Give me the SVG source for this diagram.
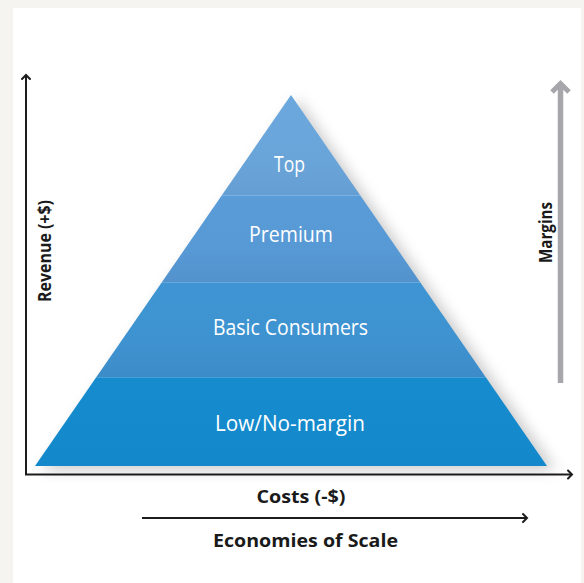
<svg xmlns="http://www.w3.org/2000/svg" width="584" height="583" viewBox="0 0 584 583">
  <style>
    .axis { stroke: #1c1c1c; stroke-width: 2; fill: none; }
    .head { stroke: #1c1c1c; stroke-width: 2; fill: none; stroke-linecap: round; stroke-linejoin: miter; }
    .tier { font-family: "Open Sans", "Noto Sans", "Liberation Sans", sans-serif; font-size: 21px; fill: #ffffff; text-anchor: middle; }
    .lbl { font-family: "Open Sans", "Noto Sans", "Liberation Sans", sans-serif; font-weight: bold; font-size: 18px; fill: #1a1a1a; text-anchor: middle; }
    .seam { stroke: #ffffff; stroke-opacity: 0.2; stroke-width: 1; }
  </style>
  <defs>
    <linearGradient id="gTop" x1="0" y1="0" x2="0" y2="1">
      <stop offset="0" stop-color="#6ba8dd"/>
      <stop offset="0.6" stop-color="#6aa5da"/>
      <stop offset="1" stop-color="#659ed2"/>
    </linearGradient>
    <linearGradient id="gPrem" x1="0" y1="0" x2="0" y2="1">
      <stop offset="0" stop-color="#5a9cd8"/>
      <stop offset="0.65" stop-color="#5799d5"/>
      <stop offset="1" stop-color="#5392cc"/>
    </linearGradient>
    <linearGradient id="gBasic" x1="0" y1="0" x2="0" y2="1">
      <stop offset="0" stop-color="#3f95d3"/>
      <stop offset="0.65" stop-color="#3e92d0"/>
      <stop offset="1" stop-color="#3d8cc8"/>
    </linearGradient>
    <linearGradient id="gLow" x1="0" y1="0" x2="0" y2="1">
      <stop offset="0" stop-color="#168bcd"/>
      <stop offset="1" stop-color="#1389cb"/>
    </linearGradient>
    <filter id="soft" x="-20%" y="-20%" width="140%" height="140%">
      <feGaussianBlur stdDeviation="7"/>
    </filter>
    <filter id="softLine" x="-5%" y="-200%" width="110%" height="500%">
      <feGaussianBlur stdDeviation="3"/>
    </filter>
  </defs>

  <!-- page and panel -->
  <rect x="0" y="0" width="584" height="583" fill="#f5f4f0"/>
  <rect x="13" y="8" width="568" height="575" fill="#ffffff"/>

  <!-- pyramid shadow -->
  <polygon points="298,99 556,470 42,470" fill="#000000" fill-opacity="0.2" filter="url(#soft)"/>

  <!-- pyramid tiers -->
  <g id="tier-low">
    <polygon points="96.4,377 485.6,377 547,466 35,466" fill="url(#gLow)"/>
    <text class="tier" x="290" y="431" textLength="150" lengthAdjust="spacingAndGlyphs">Low/No-margin</text>
  </g>
  <g id="tier-basic">
    <polygon points="162,282 420,282 485.6,377 96.4,377" fill="url(#gBasic)"/>
    <text class="tier" x="290.5" y="335" textLength="155" lengthAdjust="spacingAndGlyphs">Basic Consumers</text>
  </g>
  <g id="tier-premium">
    <polygon points="222,195 360,195 420,282 162,282" fill="url(#gPrem)"/>
    <text class="tier" x="291" y="242" textLength="84" lengthAdjust="spacingAndGlyphs">Premium</text>
  </g>
  <g id="tier-top">
    <polygon points="291,95 360,195 222,195" fill="url(#gTop)"/>
    <text class="tier" x="289.5" y="172" textLength="31" lengthAdjust="spacingAndGlyphs">Top</text>
  </g>
  <g id="seams">
    <line class="seam" x1="222" y1="195.5" x2="360" y2="195.5"/>
    <line class="seam" x1="162" y1="282.5" x2="420" y2="282.5"/>
    <line class="seam" x1="96.4" y1="377.5" x2="485.6" y2="377.5"/>
  </g>

  <!-- connectors: axes and arrows -->
  <g id="connectors">
    <line x1="26" y1="478" x2="572" y2="478" stroke="#000000" stroke-opacity="0.25" stroke-width="4" filter="url(#softLine)"/>
    <polyline class="axis" points="26,75 26,474.5 572,474.5"/>
    <polyline class="head" points="22,79 26,75 30,79"/>
    <polyline class="head" points="568,470.5 572,474.5 568,478.5"/>

    <line class="axis" x1="142" y1="518" x2="527" y2="518"/>
    <polyline class="head" points="523,514 527,518 523,522"/>

    <line x1="560.5" y1="85" x2="560.5" y2="383" stroke="#a7a7ab" stroke-width="5.5"/>
    <polyline points="552,92 560.5,83.5 569,92" fill="none" stroke="#a7a7ab" stroke-width="5" stroke-linejoin="miter"/>
  </g>

  <!-- axis labels -->
  <g id="label-revenue">
    <text class="lbl" transform="translate(51,251) rotate(-90)" textLength="102" lengthAdjust="spacingAndGlyphs">Revenue (+$)</text>
  </g>
  <g id="label-margins">
    <text class="lbl" transform="translate(552,232.5) rotate(-90)" textLength="61" lengthAdjust="spacingAndGlyphs">Margins</text>
  </g>
  <g id="label-costs">
    <text class="lbl" x="301" y="503" textLength="89" lengthAdjust="spacingAndGlyphs">Costs (-$)</text>
  </g>
  <g id="label-scale">
    <text class="lbl" x="305.5" y="547" font-size="19" textLength="185" lengthAdjust="spacingAndGlyphs">Economies of Scale</text>
  </g>
</svg>
